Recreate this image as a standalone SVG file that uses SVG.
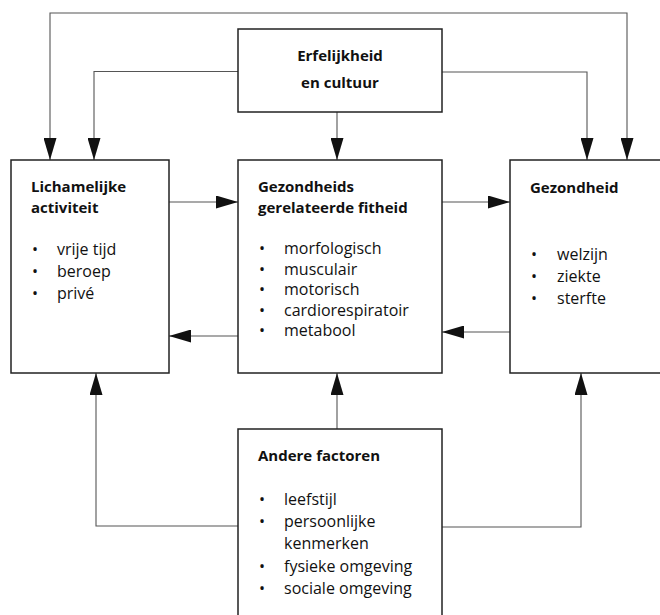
<svg xmlns="http://www.w3.org/2000/svg" width="660" height="615" viewBox="0 0 660 615">
<style>
.box{fill:#fff;stroke:#222;stroke-width:1.5}
.con{fill:none;stroke:#555;stroke-width:1.1}
text{font-family:"Open Sans","Noto Sans",sans-serif;font-size:16px;fill:#111}
.h{font-weight:bold;font-size:15px}
.c{text-anchor:middle}
</style>
<defs>
<marker id="ah" viewBox="0 0 22 13" refX="22" refY="6.5" markerWidth="22" markerHeight="13" markerUnits="userSpaceOnUse" orient="auto-start-reverse">
<path d="M0,0 L22,6.5 L0,13 z" fill="#111"/>
</marker>
</defs>
<g id="connectors">
<path class="con" d="M50,160 V13 H627 V160" marker-start="url(#ah)" marker-end="url(#ah)"/>
<path class="con" d="M238,71.5 H94 V160" marker-end="url(#ah)"/>
<path class="con" d="M442,72 H587 V160" marker-end="url(#ah)"/>
<path class="con" d="M337,112 V160" marker-end="url(#ah)"/>
<path class="con" d="M169,202 H238" marker-end="url(#ah)"/>
<path class="con" d="M442,202 H510" marker-end="url(#ah)"/>
<path class="con" d="M238,336 H169" marker-end="url(#ah)"/>
<path class="con" d="M510,332 H442" marker-end="url(#ah)"/>
<path class="con" d="M238,526 H96 V373" marker-end="url(#ah)"/>
<path class="con" d="M337,429 V373" marker-end="url(#ah)"/>
<path class="con" d="M442,527 H581 V373" marker-end="url(#ah)"/>
</g>
<g id="erfelijkheid">
<rect class="box" x="238" y="29" width="204" height="83"/>
<text class="h c" x="340" y="61">Erfelijkheid</text>
<text class="h c" x="340" y="88">en cultuur</text>
</g>
<g id="lichamelijke">
<rect class="box" x="11" y="160" width="158" height="213"/>
<text class="h" x="31" y="192">Lichamelijke</text>
<text class="h" x="31" y="213">activiteit</text>
<text x="32" y="255">•</text><text x="57" y="255">vrije tijd</text>
<text x="32" y="277">•</text><text x="57" y="277">beroep</text>
<text x="32" y="299">•</text><text x="57" y="299">privé</text>
</g>
<g id="fitheid">
<rect class="box" x="238" y="160" width="204" height="213"/>
<text class="h" x="258" y="192">Gezondheids</text>
<text class="h" x="258" y="213">gerelateerde fitheid</text>
<text x="259" y="254">•</text><text x="284" y="254">morfologisch</text>
<text x="259" y="274.5">•</text><text x="284" y="274.5">musculair</text>
<text x="259" y="295">•</text><text x="284" y="295">motorisch</text>
<text x="259" y="315.5">•</text><text x="284" y="315.5">cardiorespiratoir</text>
<text x="259" y="336">•</text><text x="284" y="336">metabool</text>
</g>
<g id="gezondheid">
<rect class="box" x="510" y="160" width="170" height="213"/>
<text class="h" x="530" y="193">Gezondheid</text>
<text x="531" y="260">•</text><text x="557" y="260">welzijn</text>
<text x="531" y="282">•</text><text x="557" y="282">ziekte</text>
<text x="531" y="304">•</text><text x="557" y="304">sterfte</text>
</g>
<g id="andere">
<rect class="box" x="238" y="429" width="204" height="200"/>
<text class="h" x="258" y="461">Andere factoren</text>
<text x="259" y="505">•</text><text x="284" y="505">leefstijl</text>
<text x="259" y="527">•</text><text x="284" y="527">persoonlijke</text>
<text x="284" y="549">kenmerken</text>
<text x="259" y="572">•</text><text x="284" y="572">fysieke omgeving</text>
<text x="259" y="594">•</text><text x="284" y="594">sociale omgeving</text>
</g>
</svg>
